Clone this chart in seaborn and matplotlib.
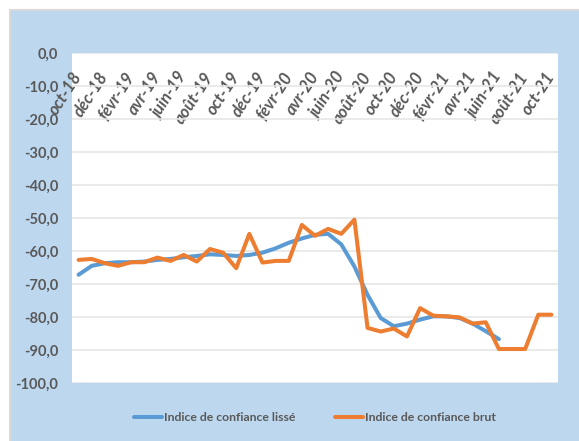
# Indice de confiance : lissé vs brut (oct-18 -> oct-21)

import numpy as np
import pandas as pd
import matplotlib
matplotlib.use("Agg")
import matplotlib.pyplot as plt
import seaborn as sns

# monthly labels, oct-18 to oct-21 (37 months)
months = ["oct-18", "nov-18", "déc-18", "janv-19", "févr-19", "mars-19", "avr-19",
          "mai-19", "juin-19", "juil-19", "août-19", "sept-19", "oct-19", "nov-19",
          "déc-19", "janv-20", "févr-20", "mars-20", "avr-20", "mai-20", "juin-20",
          "juil-20", "août-20", "sept-20", "oct-20", "nov-20", "déc-20", "janv-21",
          "févr-21", "mars-21", "avr-21", "mai-21", "juin-21", "juil-21", "août-21",
          "sept-21", "oct-21"]

# raw index
brut = [-62.7, -62.4, -63.7, -64.5, -63.4, -63.4, -62.0, -63.0, -61.2, -63.2,
        -59.4, -60.5, -65.2, -54.8, -63.5, -63.0, -63.0, -52.1, -55.4, -53.3,
        -54.8, -50.5, -83.3, -84.4, -83.5, -85.9, -77.3, -79.6, -79.8, -80.1,
        -82.0, -81.6, -89.7, -89.7, -89.7, -79.3, -79.3]

# smoothed index (stops at juin-21)
lisse = [-67.2, -64.5, -63.7, -63.4, -63.4, -63.2, -62.7, -62.4, -61.9, -61.5,
         -61.0, -61.2, -61.5, -61.2, -60.5, -59.2, -57.5, -56.2, -55.1, -54.8,
         -58.0, -64.7, -73.3, -80.3, -82.8, -82.0, -80.8, -79.8, -79.8, -80.3,
         -82.0, -84.3, -86.7, np.nan, np.nan, np.nan, np.nan]

yticks = [0, -10, -20, -30, -40, -50, -60, -70, -80, -90, -100]

df = pd.DataFrame({"pos": range(len(months)), "mois": months,
                   "Indice de confiance lissé": lisse,
                   "Indice de confiance brut": brut})
long = df.melt(id_vars=["pos", "mois"], var_name="serie", value_name="valeur")

sns.set_style("white")
plt.rcParams["font.family"] = ["Lato", "DejaVu Sans"]

bg = "#BDD7EE"
fig = plt.figure(figsize=(5.79, 4.41), dpi=100)
fig.patch.set_facecolor("white")

# light blue chart area with a thin grey border (top / left)
x0, y1 = 10 / 579, 1 - 10 / 441
fig.patches.append(plt.Rectangle((x0, 0), 1 - x0, y1, transform=fig.transFigure,
                                 facecolor=bg, edgecolor="none", zorder=-10))
fig.add_artist(plt.Line2D([x0, x0, 1], [0, y1, y1], transform=fig.transFigure,
                          color="#D9D9D9", linewidth=1.5, zorder=-5))

ax = fig.add_axes([72 / 579, 1 - 383 / 441, (558 - 72) / 579, (383 - 53) / 441])
ax.set_facecolor("white")

sns.lineplot(data=long, x="pos", y="valeur", hue="serie",
             palette=["#5B9BD5", "#ED7D31"], linewidth=2.9, ax=ax,
             legend=True)

ax.set_xlim(-0.5, len(months) - 0.5)
ax.set_ylim(-100, 0)
ax.set_yticks(yticks)
ax.set_yticklabels([f"{v:.1f}".replace(".", ",") for v in yticks],
                   color="#595959", fontsize=10.5, fontweight="bold")
ax.yaxis.grid(True, color="#E6E6E6", linewidth=1.2)
ax.set_axisbelow(True)

# category labels every two months, hanging just under the top axis
ax.xaxis.tick_top()
ax.set_xticks(df["pos"][::2])
ax.set_xticklabels(df["mois"][::2], rotation=57, ha="right", va="center",
                   rotation_mode="anchor", color="#595959", fontsize=12,
                   fontstyle="italic", fontweight="bold")
ax.tick_params(axis="x", length=0, pad=-15)
ax.tick_params(axis="y", length=0, pad=10)
ax.set_xlabel("")
ax.set_ylabel("")
for s in ax.spines.values():
    s.set_visible(False)

leg = ax.legend(loc="center", bbox_to_anchor=(0.5, -0.105), ncol=2, frameon=False,
                handlelength=2.3, handletextpad=0.2, columnspacing=3.2,
                prop={"size": 8.8, "weight": "bold"})
for t in leg.get_texts():
    t.set_color("#595959")
for h in leg.get_lines():
    h.set_linewidth(2.9)

fig.savefig("out.png", dpi=100, facecolor=fig.get_facecolor())
